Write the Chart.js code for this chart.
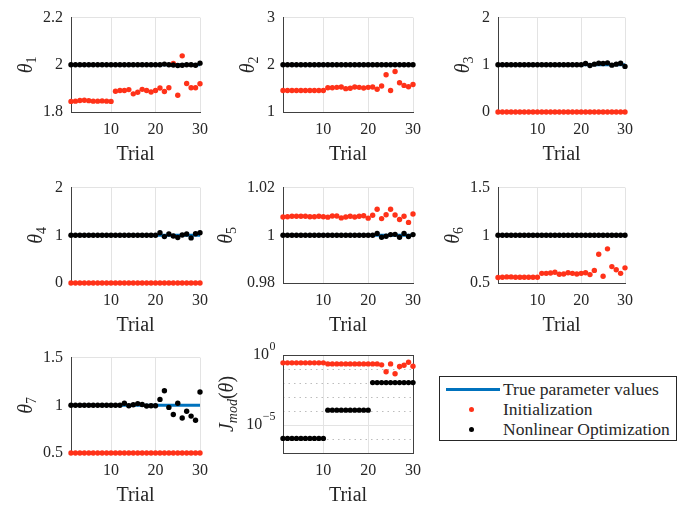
<!DOCTYPE html>
<html>
<head>
<meta charset="utf-8">
<script src="https://cdn.jsdelivr.net/npm/chart.js@4.4.1/dist/chart.umd.min.js"></script>
<style>
  body { margin: 0; background: #fff; }
  #fig { position: relative; width: 694px; height: 505px; overflow: hidden; }
  #fig canvas { position: absolute; }
  .legend {
    position: absolute; left: 439px; top: 376px; width: 238px; height: 65px;
    border: 1px solid #262626; background: #fff; box-sizing: border-box;
    font-family: 'Liberation Serif', serif; font-size: 17.5px; color: #262626;
  }
  .legend span { position: absolute; left: 63px; line-height: 20px; white-space: nowrap; }
  .legend .dot { position: absolute; width: 5px; height: 5px; border-radius: 50%; left: 29px; }
</style>
</head>
<body>
<div id="fig">
  <div class="legend">
    <div style="position:absolute;left:6px;top:11px;width:54px;height:3px;background:#0072bd"></div>
    <span style="top:2px">True parameter values</span>
    <div class="dot" style="top:30px;background:#ff3219"></div>
    <span style="top:22px">Initialization</span>
    <div class="dot" style="top:50px;background:#000"></div>
    <span style="top:42px">Nonlinear Optimization</span>
  </div>
</div>
<script>
// trial number on every panel
const trials = [1, 2, 3, 4, 5, 6, 7, 8, 9, 10, 11, 12, 13, 14, 15, 16, 17, 18, 19, 20,
                21, 22, 23, 24, 25, 26, 27, 28, 29, 30];
const xTicks = [10, 20, 30];

// true parameter values theta1..theta7
const trueValues = [2, 2, 1, 1, 1, 1, 1];

const th1Ticks = [1.8, 2, 2.2];
const th1Init = [1.845, 1.846, 1.849, 1.850, 1.848, 1.846, 1.846, 1.847, 1.846, 1.845,
                 1.888, 1.891, 1.891, 1.895, 1.877, 1.884, 1.896, 1.891, 1.885, 1.891,
                 1.902, 1.887, 1.903, 2.006, 1.871, 2.038, 1.921, 1.903, 1.903, 1.920];
const th1Opt = [2, 2, 2, 2, 2, 2, 2, 2, 2, 2, 2, 2, 2, 2, 2, 2, 2, 2, 2, 2,
                2.0, 2.003, 2.0, 1.999, 1.997, 1.998, 2.0, 2.0, 1.998, 2.007];

const th2Ticks = [1, 2, 3];
const th2Init = [1.454, 1.455, 1.456, 1.456, 1.455, 1.455, 1.455, 1.456, 1.455, 1.454,
                 1.515, 1.515, 1.522, 1.529, 1.495, 1.502, 1.529, 1.522, 1.509, 1.522,
                 1.529, 1.481, 1.550, 1.790, 1.454, 1.859, 1.619, 1.564, 1.536, 1.584];
const th2Opt = [2, 2, 2, 2, 2, 2, 2, 2, 2, 2, 2, 2, 2, 2, 2, 2, 2, 2, 2, 2,
                2, 2, 2, 2, 2, 2, 2, 2, 2, 2];

const th3Ticks = [0, 1, 2];
const th3Init = [0, 0, 0, 0, 0, 0, 0, 0, 0, 0, 0, 0, 0, 0, 0, 0, 0, 0, 0, 0,
                 0, 0, 0, 0, 0, 0, 0, 0, 0, 0];
const th3Opt = [1, 1, 1, 1, 1, 1, 1, 1, 1, 1, 1, 1, 1, 1, 1, 1, 1, 1, 1, 1,
                1.027, 0.986, 1.014, 1.034, 1.027, 1.041, 0.993, 1.014, 1.034, 0.966];

const th4Ticks = [0, 1, 2];
const th4Init = [0, 0, 0, 0, 0, 0, 0, 0, 0, 0, 0, 0, 0, 0, 0, 0, 0, 0, 0, 0,
                 0, 0, 0, 0, 0, 0, 0, 0, 0, 0];
const th4Opt = [1, 1, 1, 1, 1, 1, 1, 1, 1, 1, 1, 1, 1, 1, 1, 1, 1, 1, 1, 1,
                1.054, 0.973, 1.027, 0.986, 0.953, 1.007, 1.027, 0.946, 1.034, 1.054];

const th5Ticks = [0.98, 1, 1.02];
const th5Init = [1.0077, 1.0078, 1.0080, 1.0080, 1.0080, 1.0080, 1.0078, 1.0078, 1.0080, 1.0078,
                 1.0076, 1.0081, 1.0081, 1.0073, 1.0077, 1.0080, 1.0077, 1.0080, 1.0082, 1.0072,
                 1.0084, 1.0109, 1.0070, 1.0086, 1.0109, 1.0085, 1.0066, 1.0080, 1.0054, 1.0089];
const th5Opt = [1, 1, 1, 1, 1, 1, 1, 1, 1, 1, 1, 1, 1, 1, 1, 1, 1, 1, 1, 1,
                1, 1.0008, 0.9992, 0.9996, 1.0003, 1.0004, 0.9992, 1.0008, 0.9995, 1.0003];

const th6Ticks = [0.5, 1, 1.5];
const th6Init = [0.557, 0.561, 0.564, 0.564, 0.561, 0.561, 0.561, 0.561, 0.561, 0.561,
                 0.601, 0.601, 0.605, 0.612, 0.591, 0.595, 0.608, 0.601, 0.595, 0.601,
                 0.608, 0.588, 0.632, 0.801, 0.571, 0.858, 0.672, 0.639, 0.601, 0.659];
const th6Opt = [1, 1, 1, 1, 1, 1, 1, 1, 1, 1, 1, 1, 1, 1, 1, 1, 1, 1, 1, 1,
                1, 1, 1, 1, 1, 1, 1, 1, 1, 1];

const th7Ticks = [0.5, 1, 1.5];
const th7Init = [0.5, 0.5, 0.5, 0.5, 0.5, 0.5, 0.5, 0.5, 0.5, 0.5, 0.5, 0.5, 0.5, 0.5, 0.5,
                 0.5, 0.5, 0.5, 0.5, 0.5, 0.5, 0.5, 0.5, 0.5, 0.5, 0.5, 0.5, 0.5, 0.5, 0.5];
const th7Opt = [1, 1, 1, 1, 1, 1, 1, 1, 1, 1, 1, 1,
                1.022, 0.995, 1.005, 1.018, 1.008, 0.992, 0.995, 0.995,
                1.062, 1.153, 0.978, 0.904, 1.022, 0.867, 0.938, 0.887, 0.843, 1.140];

// cost J_mod(theta), log axis; tick labels as base and exponent
const jTicks = [1e-5, 1];
const jTickBase = ['10', '10'];
const jTickExp = ['−5', '0'];
const jMinorDecades = [1e-1, 1e-2, 1e-3, 1e-4, 1e-6];
const jInit = [0.275, 0.275, 0.275, 0.275, 0.275, 0.275, 0.275, 0.275, 0.275, 0.275,
               0.232, 0.232, 0.232, 0.232, 0.232, 0.232, 0.232, 0.232, 0.232, 0.232,
               0.232, 0.232, 0.198, 0.0635, 0.232, 0.0459, 0.151, 0.187, 0.305, 0.159];
const jOpt = [1.1e-6, 1.1e-6, 1.1e-6, 1.1e-6, 1.1e-6, 1.1e-6, 1.1e-6, 1.1e-6, 1.1e-6, 1.1e-6,
              1.15e-4, 1.15e-4, 1.15e-4, 1.15e-4, 1.15e-4, 1.15e-4, 1.15e-4, 1.15e-4, 1.15e-4, 1.15e-4,
              1.07e-2, 1.07e-2, 1.07e-2, 1.07e-2, 1.07e-2, 1.07e-2, 1.07e-2, 1.07e-2, 1.07e-2, 1.07e-2];

const RED = '#ff3219', BLUE = '#0072bd', TXT = '#262626', AXIS = '#404040', GRID = '#e3e3e3';
const SERIF = 'Liberation Serif';
const M = { l: 71, t: 15, r: 12, b: 56 };

Chart.defaults.font.family = SERIF;
Chart.defaults.font.size = 15;

// axis titles drawn by hand so that subscripts work
const fonts = {
  i: `italic 20px "${SERIF}"`, n: `20px "${SERIF}"`,
  s: `14px "${SERIF}"`, si: `italic 14px "${SERIF}"`,
  t: `16px "${SERIF}"`, e: `12px "${SERIF}"`
};
Chart.register({
  id: 'axisTitles',
  beforeDatasetsDraw(chart, args, opts) {
    const a = chart.chartArea, ctx = chart.ctx;
    if (!opts.logBox) return;
    const y = chart.scales.y;
    ctx.save();
    ctx.strokeStyle = '#bdbdbd';
    ctx.lineWidth = 1;
    ctx.setLineDash([1.5, 4]);
    jMinorDecades.forEach(v => {
      const py = Math.round(y.getPixelForValue(v)) + 0.5;
      ctx.beginPath(); ctx.moveTo(a.left, py); ctx.lineTo(a.right, py); ctx.stroke();
    });
    ctx.setLineDash([]);
    ctx.strokeStyle = AXIS;
    ctx.strokeRect(Math.round(a.left) + 0.5, Math.round(a.top) + 0.5,
                   Math.round(a.right - a.left), Math.round(a.bottom - a.top));
    // 10^k tick labels
    ctx.fillStyle = TXT;
    ctx.textBaseline = 'alphabetic';
    ctx.textAlign = 'left';
    jTicks.forEach((v, i) => {
      const py = y.getPixelForValue(v);
      ctx.font = fonts.e;
      const we = ctx.measureText(jTickExp[i]).width;
      ctx.font = fonts.t;
      const wb = ctx.measureText(jTickBase[i]).width;
      const x0 = a.left - 8 - we - wb;
      ctx.fillText(jTickBase[i], x0, py + 4);
      ctx.font = fonts.e;
      ctx.fillText(jTickExp[i], x0 + wb + 0.5, py - 5);
    });
    ctx.restore();
  },
  afterDraw(chart, args, opts) {
    const a = chart.chartArea, ctx = chart.ctx;
    ctx.save();
    ctx.fillStyle = TXT;
    ctx.font = fonts.n;
    ctx.textAlign = 'center';
    ctx.textBaseline = 'alphabetic';
    ctx.fillText('Trial', (a.left + a.right) / 2, a.bottom + 48);

    ctx.translate(a.left - opts.off, (a.top + a.bottom) / 2);
    ctx.rotate(-Math.PI / 2);
    ctx.textAlign = 'left';
    let w = 0;
    opts.parts.forEach(p => { ctx.font = fonts[p[1]]; w += ctx.measureText(p[0]).width; });
    let x = -w / 2;
    opts.parts.forEach(p => {
      ctx.font = fonts[p[1]];
      const dy = (p[1] === 's' || p[1] === 'si') ? 4 : 0;
      ctx.fillText(p[0], x, 7 + dy);
      x += ctx.measureText(p[0]).width;
    });
    ctx.restore();
  }
});

const panels = [
  { box: [71, 15, 204, 112], ticks: th1Ticks, init: th1Init, opt: th1Opt, truth: trueValues[0], parts: [['θ', 'i'], ['1', 's']], off: 46 },
  { box: [283, 15, 417, 112], ticks: th2Ticks, init: th2Init, opt: th2Opt, truth: trueValues[1], parts: [['θ', 'i'], ['2', 's']], off: 36 },
  { box: [498, 15, 629, 112], ticks: th3Ticks, init: th3Init, opt: th3Opt, truth: trueValues[2], parts: [['θ', 'i'], ['3', 's']], off: 36 },
  { box: [71, 185, 204, 283], ticks: th4Ticks, init: th4Init, opt: th4Opt, truth: trueValues[3], parts: [['θ', 'i'], ['4', 's']], off: 36 },
  { box: [283, 185, 417, 283], ticks: th5Ticks, init: th5Init, opt: th5Opt, truth: trueValues[4], parts: [['θ', 'i'], ['5', 's']], off: 58 },
  { box: [498, 185, 629, 283], ticks: th6Ticks, init: th6Init, opt: th6Opt, truth: trueValues[5], parts: [['θ', 'i'], ['6', 's']], off: 46 },
  { box: [71, 355, 204, 453], ticks: th7Ticks, init: th7Init, opt: th7Opt, truth: trueValues[6], parts: [['θ', 'i'], ['7', 's']], off: 46 },
  { box: [283, 355, 417, 453], ticks: jTicks, init: jInit, opt: jOpt, truth: null, log: true,
    parts: [['J', 'i'], ['mod', 'si'], ['(', 'n'], ['θ', 'i'], [')', 'n']], off: 57 }
];

const fig = document.getElementById('fig');
const tickFont = { family: SERIF, size: 16 };

panels.forEach(p => {
  const [x0, y0, x1, y1] = p.box;
  const canvas = document.createElement('canvas');
  canvas.width = x1 - x0 + M.l + M.r;
  canvas.height = y1 - y0 + M.t + M.b;
  canvas.style.left = (x0 - M.l) + 'px';
  canvas.style.top = (y0 - M.t) + 'px';
  fig.appendChild(canvas);

  const pts = vals => trials.map((t, i) => ({ x: t, y: vals[i] }));
  const datasets = [
    { data: pts(p.opt), backgroundColor: '#000', borderColor: '#000', pointRadius: 2.7, borderWidth: 0, clip: false, order: 0 },
    { data: pts(p.init), backgroundColor: RED, borderColor: RED, pointRadius: 2.7, borderWidth: 0, clip: false, order: 1 }
  ];
  if (p.truth !== null) {
    datasets.push({
      data: [{ x: trials[0], y: p.truth }, { x: trials[trials.length - 1], y: p.truth }],
      showLine: true, borderColor: BLUE, borderWidth: 3, pointRadius: 0, clip: false, order: 2
    });
  }

  const ymin = p.log ? 1e-7 : p.ticks[0];
  const ymax = p.log ? 1 : p.ticks[p.ticks.length - 1];

  new Chart(canvas, {
    type: 'scatter',
    data: { datasets },
    options: {
      responsive: false,
      animation: false,
      events: [],
      devicePixelRatio: 1,
      layout: { padding: { left: 0, top: M.t, right: M.r, bottom: 0 } },
      plugins: {
        legend: { display: false },
        tooltip: { enabled: false },
        axisTitles: { parts: p.parts, off: p.off, logBox: !!p.log }
      },
      scales: {
        x: {
          type: 'linear', min: 1, max: 30,
          afterBuildTicks: s => { s.ticks = xTicks.map(v => ({ value: v })); },
          afterFit: s => { s.height = M.b; },
          grid: { color: GRID, drawTicks: false },
          border: { color: AXIS },
          ticks: { padding: 8, font: tickFont, color: TXT, maxRotation: 0, autoSkip: false,
                   callback: v => String(v) }
        },
        y: {
          type: p.log ? 'logarithmic' : 'linear', min: ymin, max: ymax,
          afterBuildTicks: s => { s.ticks = p.ticks.map(v => ({ value: v })); },
          afterFit: s => { s.width = M.l; },
          grid: {
            drawTicks: false,
            color: c => (!p.log && c.tick && c.tick.value === ymin) ? 'rgba(0,0,0,0)' : GRID
          },
          border: { color: AXIS },
          ticks: {
            display: !p.log,
            padding: 8, font: tickFont, color: TXT, autoSkip: false,
            callback: v => String(v)
          }
        }
      }
    }
  });
});
</script>
</body>
</html>
